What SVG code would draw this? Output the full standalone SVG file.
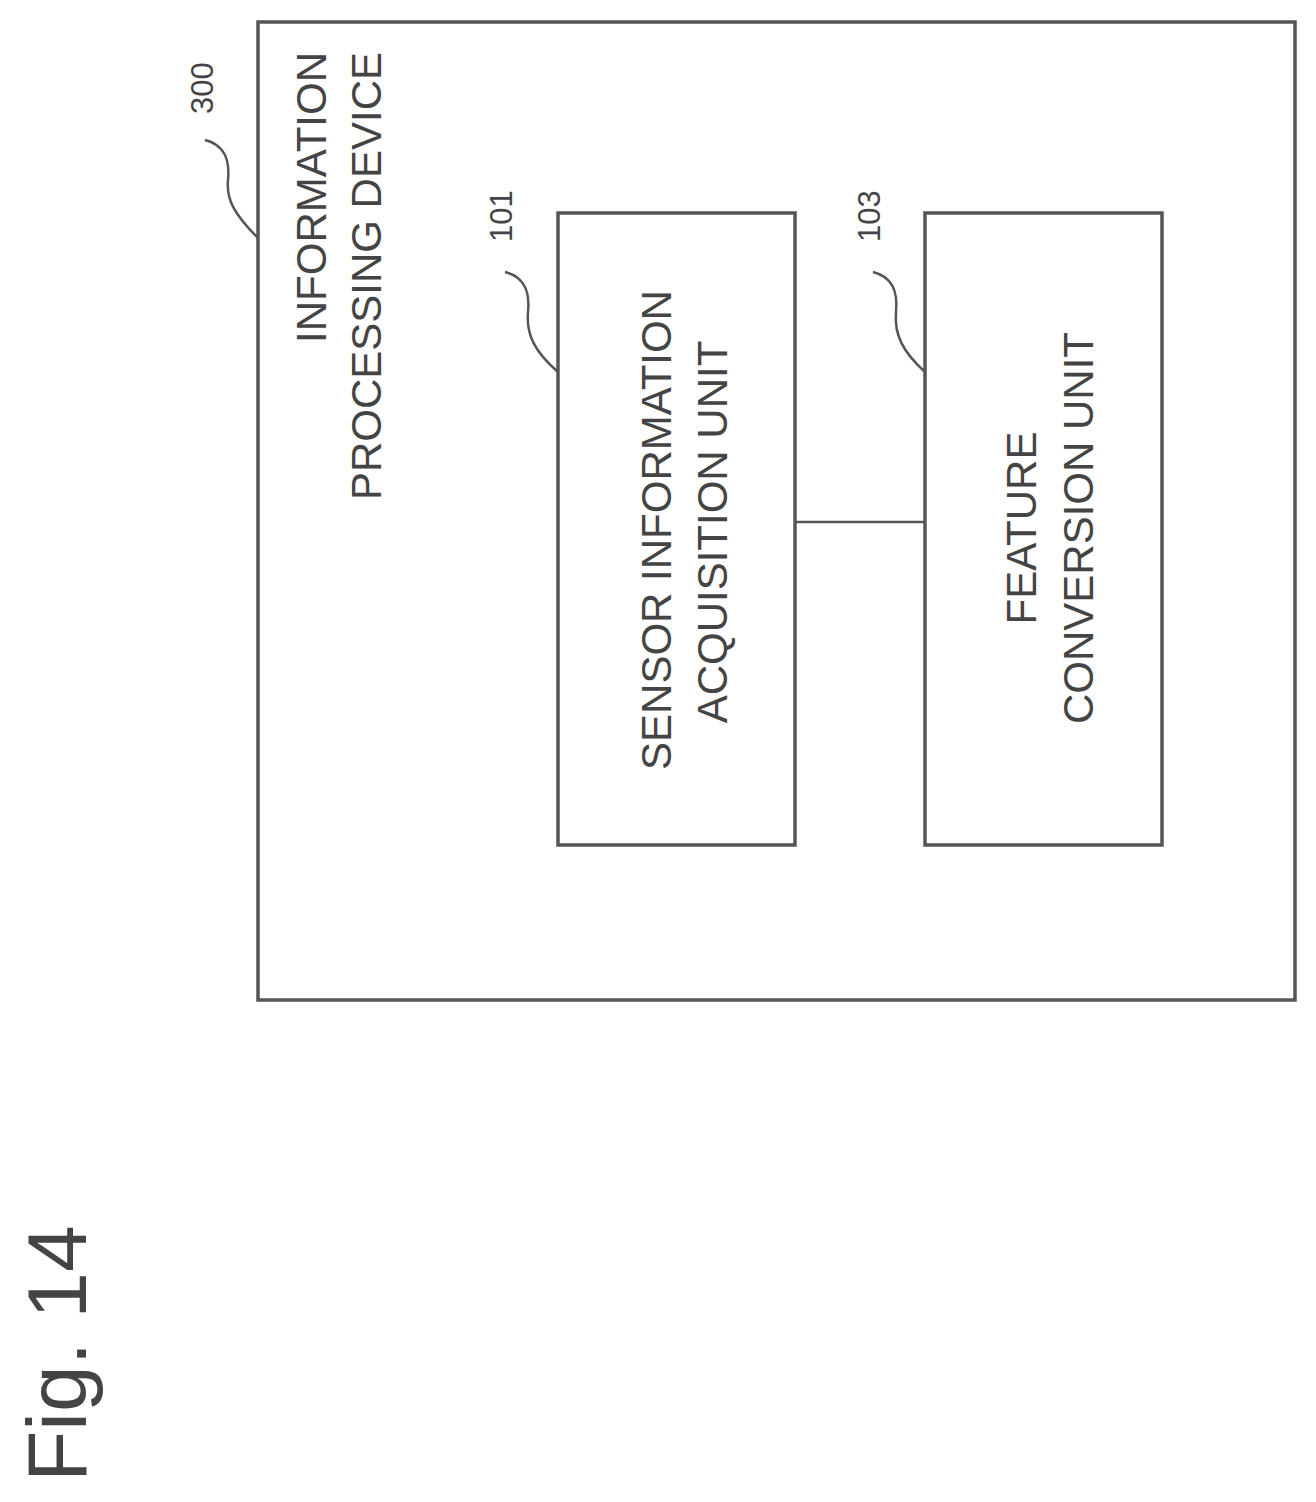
<svg xmlns="http://www.w3.org/2000/svg" width="1316" height="1502" viewBox="0 0 1316 1502">
<style>
.box{fill:none;stroke:#555;stroke-width:3.5}
.ln{fill:none;stroke:#555;stroke-width:2.5}
.t{font-family:"Liberation Sans",Arial,sans-serif;font-size:42px;fill:#444}
.n{font-family:"Liberation Sans",Arial,sans-serif;font-size:31px;fill:#444}
</style>
<rect width="1316" height="1502" fill="#fff"/>
<g id="n300">
<rect class="box" x="258" y="22" width="1037" height="978"/>
<text class="t" text-anchor="end" transform="translate(326,52) rotate(-90)">INFORMATION</text>
<text class="t" text-anchor="end" transform="translate(381,52) rotate(-90)">PROCESSING DEVICE</text>
<text class="n" transform="translate(213,114) rotate(-90)">300</text>
</g>
<g id="n101">
<rect class="box" x="558" y="213" width="237" height="632"/>
<text class="t" text-anchor="middle" transform="translate(671,530) rotate(-90)">SENSOR INFORMATION</text>
<text class="t" text-anchor="middle" transform="translate(727,532) rotate(-90)">ACQUISITION UNIT</text>
<text class="n" transform="translate(512,242) rotate(-90)">101</text>
</g>
<g id="n103">
<rect class="box" x="925" y="213" width="237" height="632"/>
<text class="t" text-anchor="middle" transform="translate(1036,528) rotate(-90)">FEATURE</text>
<text class="t" text-anchor="middle" transform="translate(1093,528) rotate(-90)">CONVERSION UNIT</text>
<text class="n" transform="translate(880,242) rotate(-90)">103</text>
</g>
<g id="connectors">
<line class="ln" x1="795" y1="522" x2="925" y2="522"/>
<path class="ln" d="M205,140 C225,145 230,160 228,180 C226,200 235,215 258,238"/>
<path class="ln" d="M505,272 C525,277 530,292 528,312 C526,335 535,352 558,372"/>
<path class="ln" d="M873,272 C893,277 898,292 896,312 C894,335 903,352 925,372"/>
</g>
<text font-family="Liberation Sans,Arial,sans-serif" font-size="84" fill="#444" transform="translate(86,1482) rotate(-90)">Fig. 14</text>
</svg>
